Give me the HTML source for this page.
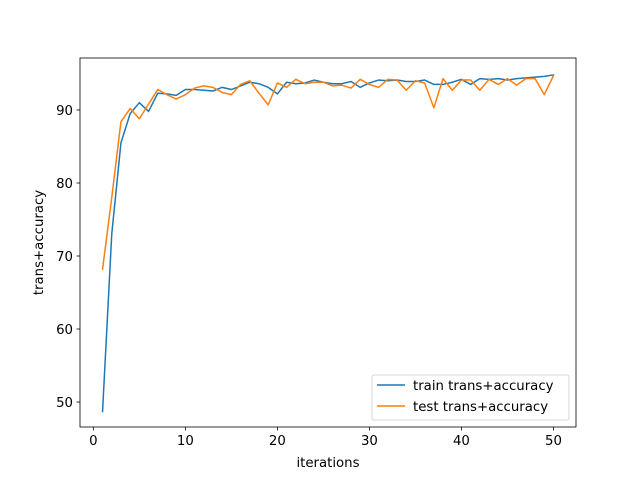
<!DOCTYPE html>
<html><head><meta charset="utf-8"><style>
body{margin:0;background:#fff;}
svg text{font-family:"DejaVu Sans","Liberation Sans",sans-serif;font-size:13.3px;fill:#000;}
</style></head><body>
<svg id="chart" width="640" height="480" xmlns="http://www.w3.org/2000/svg">
<rect width="640" height="480" fill="#fff"/>
<g id="plot"></g>
</svg>
<script>
const iterations = Array.from({length:50},(_,i)=>i+1);
const trainAcc = [48.7,73,85.5,89.5,91,89.8,92.3,92.2,92,92.8,92.8,92.7,92.6,93.1,92.8,93.3,93.8,93.6,93.1,92.2,93.8,93.6,93.7,94.1,93.8,93.6,93.6,93.9,93.1,93.7,94.1,94,94.1,93.9,93.9,94.1,93.5,93.5,93.8,94.2,93.5,94.3,94.2,94.3,94.1,94.3,94.4,94.5,94.6,94.8];
const testAcc = [68.2,78,88.4,90.2,88.8,90.8,92.8,92.1,91.5,92.1,93,93.3,93.1,92.4,92.1,93.5,94,92.3,90.7,93.7,93.1,94.2,93.6,93.8,93.8,93.3,93.4,93,94.2,93.5,93.1,94.2,94.1,92.7,94,93.7,90.3,94.3,92.7,94.1,94.1,92.7,94.2,93.5,94.3,93.4,94.3,94.3,92.1,94.7];
const xTicks = [0,10,20,30,40,50];
const yTicks = [50,60,70,80,90];
const L=80,R=576,T=58,B=427;
const xmin=-1.45,xmax=52.45,ymin=46.58,ymax=97.12;
const xs=v=>L+(v-xmin)/(xmax-xmin)*(R-L);
const ys=v=>B-(v-ymin)/(ymax-ymin)*(B-T);
const g=document.getElementById('plot');
const NS='http://www.w3.org/2000/svg';
function mk(tag,attrs,parent){const e=document.createElementNS(NS,tag);for(const k in attrs)e.setAttribute(k,attrs[k]);(parent||g).appendChild(e);return e;}
function series(vals,color,name){
  const p=mk('polyline',{points:vals.map((v,i)=>xs(iterations[i])+','+ys(v)).join(' '),fill:'none',stroke:color,'stroke-width':1.5,'stroke-linejoin':'round','stroke-linecap':'square'});
  
  
}
series(trainAcc,'#1f77b4','train-line');
series(testAcc,'#ff7f0e','test-line');
const frame=mk('rect',{x:L,y:T,width:R-L,height:B-T,fill:'none',stroke:'#000','stroke-width':0.8});


xTicks.forEach(t=>{
  const x=xs(t);
  mk('line',{x1:x,x2:x,y1:B,y2:B+3.5,stroke:'#000','stroke-width':0.8});
  const tx=mk('text',{x:x,y:B+18,'text-anchor':'middle'});tx.textContent=t;
  
  
});
yTicks.forEach(t=>{
  const y=ys(t);
  mk('line',{x1:L,x2:L-3.5,y1:y,y2:y,stroke:'#000','stroke-width':0.8});
  const tx=mk('text',{x:L-7,y:y+5,'text-anchor':'end'});tx.textContent=t;
  
  
});
const xl=mk('text',{x:(L+R)/2,y:467,'text-anchor':'middle'});xl.textContent='iterations';


const yl=mk('text',{x:43,y:(T+B)/2,'text-anchor':'middle',transform:'rotate(-90 43 '+(T+B)/2+')'});yl.textContent='trans+accuracy';


const lg=mk('g',{});


mk('rect',{x:372,y:375,width:197,height:45,rx:2,fill:'#fff',stroke:'#ccc','stroke-width':0.8},lg);
[['train trans+accuracy','#1f77b4',387],['test trans+accuracy','#ff7f0e',408]].forEach(([lab,c,y])=>{
  mk('line',{x1:377,x2:405,y1:y-2,y2:y-2,stroke:c,'stroke-width':1.5},lg);
  const t=mk('text',{x:413,y:y+3},lg);t.textContent=lab;
  
  
});
</script>
</body></html>
